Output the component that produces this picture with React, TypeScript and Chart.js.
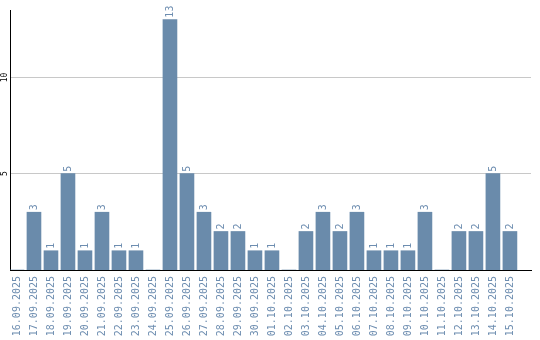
import React, { useEffect, useRef } from "react";
import { Chart, registerables } from "chart.js";

Chart.register(...registerables);

const dates = [
  "16.09.2025", "17.09.2025", "18.09.2025", "19.09.2025", "20.09.2025",
  "21.09.2025", "22.09.2025", "23.09.2025", "24.09.2025", "25.09.2025",
  "26.09.2025", "27.09.2025", "28.09.2025", "29.09.2025", "30.09.2025",
  "01.10.2025", "02.10.2025", "03.10.2025", "04.10.2025", "05.10.2025",
  "06.10.2025", "07.10.2025", "08.10.2025", "09.10.2025", "10.10.2025",
  "11.10.2025", "12.10.2025", "13.10.2025", "14.10.2025", "15.10.2025",
];
const counts = [0, 3, 1, 5, 1, 3, 1, 1, 0, 13, 5, 3, 2, 2, 1, 1, 0, 2, 3, 2, 3, 1, 1, 1, 3, 0, 2, 2, 5, 2];
const yTickValues = [5, 10];

const BAR_COLOR = "#6a8bab";
const TEXT_COLOR = "#6d8db0";
const MONO = "'DejaVu Sans Mono', monospace";

const labelsPlugin = {
  id: "customLabels",
  afterDatasetsDraw(chart: any) {
    const ctx = chart.ctx;
    const meta = chart.getDatasetMeta(0);
    ctx.save();
    ctx.fillStyle = TEXT_COLOR;
    ctx.font = `10px ${MONO}`;
    meta.data.forEach((bar: any, i: number) => {
      const v = counts[i];
      if (!v) return;
      ctx.save();
      ctx.translate(bar.x, bar.y - 2);
      ctx.rotate(-Math.PI / 2);
      ctx.textAlign = "left";
      ctx.textBaseline = "middle";
      ctx.fillText(String(v), 0, 0);
      ctx.restore();
    });
    const yScale = chart.scales.y;
    ctx.fillStyle = "#000000";
    ctx.font = `8px ${MONO}`;
    yTickValues.forEach((v) => {
      ctx.save();
      ctx.translate(5, yScale.getPixelForValue(v));
      ctx.rotate(-Math.PI / 2);
      ctx.textAlign = "center";
      ctx.textBaseline = "middle";
      ctx.fillText(String(v), 0, 0);
      ctx.restore();
    });
    ctx.restore();
  },
};

export default function App() {
  const canvasRef = useRef<HTMLCanvasElement | null>(null);

  useEffect(() => {
    document.body.style.margin = "0";
    const canvas = canvasRef.current;
    if (!canvas) return;
    const chart = new Chart(canvas, {
      type: "bar",
      data: {
        datasets: [
          {
            data: counts.map((v, i) => ({ x: i, y: v })),
            backgroundColor: BAR_COLOR,
            barThickness: 14,
          },
        ],
      },
      options: {
        animation: false,
        responsive: false,
        maintainAspectRatio: false,
        layout: { padding: { top: 10, right: 9, left: 0, bottom: 0 } },
        plugins: {
          legend: { display: false },
          tooltip: { enabled: false },
        },
        scales: {
          x: {
            type: "linear",
            offset: false,
            min: -0.41,
            max: 30.24,
            grid: { display: false, drawTicks: false },
            border: { color: "#000000", width: 1 },
            afterBuildTicks: (scale: any) => {
              scale.ticks = dates.map((_, i) => ({ value: i }));
            },
            afterFit: (scale: any) => {
              scale.height = 70;
            },
            ticks: {
              autoSkip: false,
              minRotation: 90,
              maxRotation: 90,
              padding: 6,
              color: TEXT_COLOR,
              font: { family: MONO, size: 10 },
              callback: (v: any) => dates[v as number] ?? "",
            },
          },
          y: {
            min: 0,
            max: 13.5,
            afterBuildTicks: (scale: any) => {
              scale.ticks = yTickValues.map((v) => ({ value: v }));
            },
            afterFit: (scale: any) => {
              scale.width = 10;
            },
            grid: { color: "#c8c8c8", drawTicks: false, lineWidth: 1 },
            border: { color: "#000000", width: 1 },
            ticks: { display: false },
          },
        },
      },
      plugins: [labelsPlugin],
    });
    return () => chart.destroy();
  }, []);

  return (
    <div style={{ width: 540, height: 340 }}>
      <canvas ref={canvasRef} width={540} height={340} style={{ display: "block" }} />
    </div>
  );
}
